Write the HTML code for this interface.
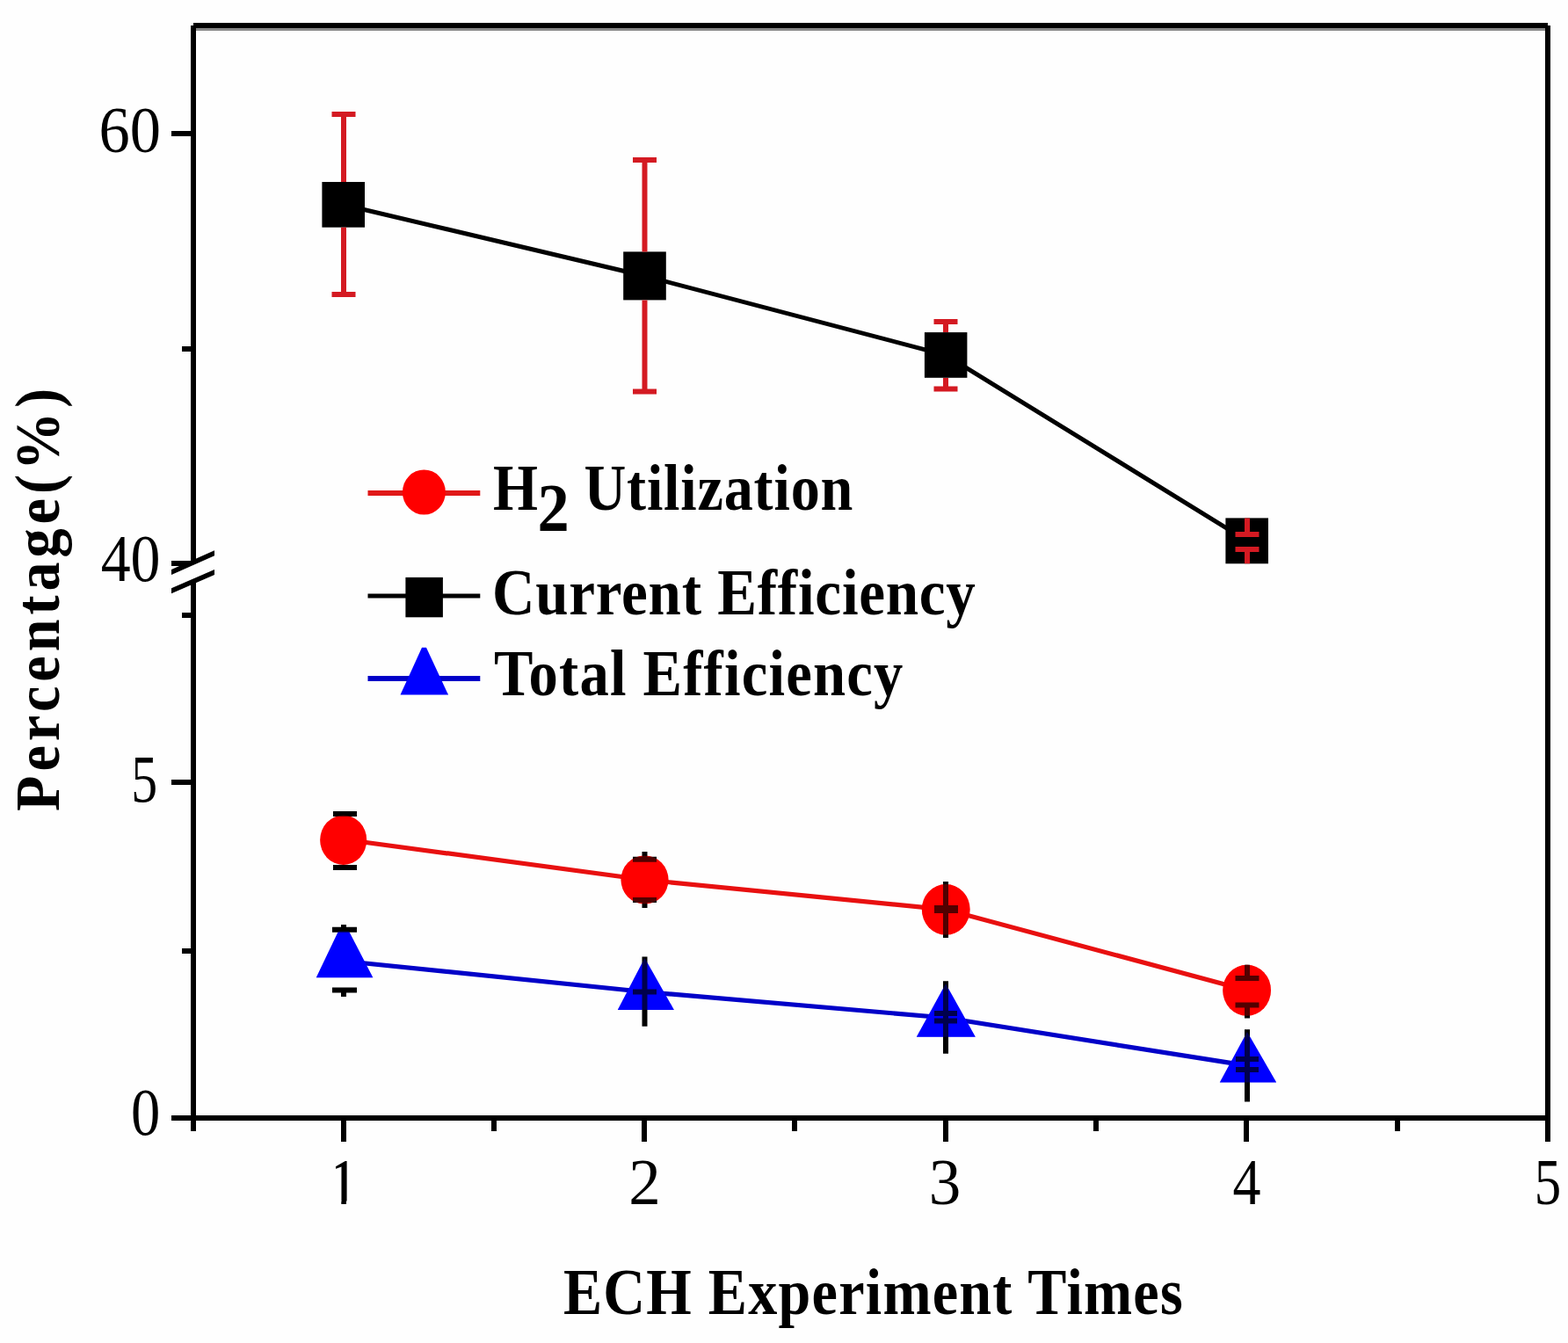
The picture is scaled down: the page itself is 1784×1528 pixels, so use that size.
<!DOCTYPE html>
<html>
<head>
<meta charset="utf-8">
<style>
html,body{margin:0;padding:0;background:#fefefe;}
body{width:1784px;height:1528px;overflow:hidden;}
svg{display:block;}
.num{font-family:"Liberation Serif",serif;font-size:73px;fill:#000;}
.bt{font-family:"Liberation Serif",serif;font-weight:bold;font-size:72px;fill:#000;}
</style>
</head>
<body>
<svg width="1784" height="1528" viewBox="0 0 1784 1528">
<defs>
  <clipPath id="clip1" clipPathUnits="userSpaceOnUse">
    <rect x="382" y="1300" width="30" height="66.5"/>
    <rect x="388.3" y="1366" width="5.7" height="10"/>
  </clipPath>
</defs>
<rect x="0" y="0" width="1784" height="1528" fill="#fefefe"/>

<!-- ===== AXES ===== -->
<g fill="#000" shape-rendering="crispEdges">
  <!-- top axis -->
  <rect x="220" y="26" width="1541" height="6"/>
  <rect x="223" y="32" width="1535" height="3" fill="#888"/>
  <!-- right axis (incl. major tick at 5) -->
  <rect x="1758" y="29" width="6" height="1270"/>
  <!-- bottom axis (incl. y tick at 0) -->
  <rect x="195" y="1269" width="1569" height="6"/>
  <!-- left axis upper segment -->
  <rect x="217" y="29" width="6" height="611"/>
  <!-- left axis lower segment (incl. minor x tick) -->
  <rect x="217" y="661" width="6" height="626"/>
  <!-- y ticks -->
  <rect x="195" y="149" width="22" height="6"/>
  <rect x="207" y="394" width="10" height="6"/>
  <rect x="195" y="638" width="22" height="6"/>
  <rect x="207" y="697" width="10" height="6"/>
  <rect x="195" y="887" width="22" height="6"/>
  <rect x="207" y="1079" width="10" height="6"/>
  <!-- x major ticks -->
  <rect x="388" y="1275" width="6" height="24"/>
  <rect x="730" y="1275" width="6" height="24"/>
  <rect x="1073" y="1275" width="6" height="24"/>
  <rect x="1415" y="1275" width="6" height="24"/>
  <!-- x minor ticks -->
  <rect x="559" y="1275" width="6" height="12"/>
  <rect x="901" y="1275" width="6" height="12"/>
  <rect x="1244" y="1275" width="6" height="12"/>
  <rect x="1587" y="1275" width="6" height="12"/>
</g>
<!-- axis break marks -->
<g fill="#000">
  <polygon points="195,648 244,626.2 244,632.2 195,654"/>
  <polygon points="195,669.2 244,648 244,654 195,675.2"/>
</g>

<!-- ===== TICK LABELS ===== -->
<g class="num">
  <text x="112.4" y="173" textLength="70.5" lengthAdjust="spacingAndGlyphs">60</text>
  <text x="114.7" y="661" style="font-size:76px" textLength="67.8" lengthAdjust="spacingAndGlyphs">40</text>
  <text x="149.2" y="912" style="font-size:76px" textLength="29.9" lengthAdjust="spacingAndGlyphs">5</text>
  <text x="149" y="1291" style="font-size:76px" textLength="33.3" lengthAdjust="spacingAndGlyphs">0</text>
  <text x="390.5" y="1370" text-anchor="middle" clip-path="url(#clip1)">1</text>
  <text x="733.5" y="1370" text-anchor="middle">2</text>
  <text x="1075" y="1370" text-anchor="middle">3</text>
  <text x="1418.5" y="1370" text-anchor="middle" textLength="32" lengthAdjust="spacingAndGlyphs">4</text>
  <text x="1745.7" y="1370" textLength="30.4" lengthAdjust="spacingAndGlyphs">5</text>
</g>

<!-- ===== AXIS TITLES ===== -->
<g transform="translate(641,1495) scale(0.9,1)"><text class="bt" x="0" y="0" style="font-size:73.5px" textLength="783" lengthAdjust="spacing">ECH Experiment Times</text></g>
<g transform="translate(66.7,923) rotate(-90) scale(0.92,1)"><text class="bt" x="0" y="0" textLength="523" lengthAdjust="spacing">Percentage(%)</text></g>

<!-- ===== SERIES - Current Efficiency (black squares, red error bars) ===== -->
<polyline points="391,233 733.5,314 1076,404 1419,615.3" fill="none" stroke="#000" stroke-width="5"/>
<g fill="#000">
  <rect x="366.4" y="207" width="48.6" height="51.7"/>
  <rect x="709.2" y="286.4" width="48.6" height="55"/>
  <rect x="1051.9" y="378.1" width="48.5" height="51.7"/>
  <rect x="1394.4" y="589.4" width="48.6" height="51.9"/>
</g>
<g stroke="#d41a22" stroke-width="6" fill="none">
  <path d="M391 207V130 M377.5 130H404.5 M391 258.7V335 M377.5 335H404.5"/>
  <path d="M733.5 286.4V182 M720 182H747 M733.5 341.4V445.6 M720 445.6H747"/>
  <path d="M1076 378V366 M1062.5 366H1089.5 M1076 430V442.6 M1062.5 442.6H1089.5"/>
  <path d="M1419 589.4V608 M1405.5 608H1432.5 M1419 641.3V625 M1405.5 625H1432.5"/>
</g>

<!-- ===== SERIES - H2 Utilization (red circles, black error bars) ===== -->
<polyline points="390.7,955 733.5,1001 1076.2,1034.8 1418.6,1126.7" fill="none" stroke="#e81010" stroke-width="5.2"/>
<g id="circ" fill="#ff0000">
  <ellipse cx="390.7" cy="955.7" rx="26.5" ry="28.2"/>
  <ellipse cx="733.5" cy="1001" rx="27" ry="27.5"/>
  <ellipse cx="1076.2" cy="1034.8" rx="27.4" ry="28.8"/>
  <ellipse cx="1418.6" cy="1126.7" rx="27.4" ry="29"/>
</g>
<g stroke="#000" stroke-width="6" fill="none">
  <path d="M392.4 923V926 M379 926H406 M392.4 987V987 M379 987H406"/>
  <path d="M733.5 969V977.8 M720 977.8H747 M733.5 1033V1024 M720 1024H747"/>
  <path d="M1076 1003V1067 M1063 1033H1090 M1063 1036H1090"/>
  <path d="M1419 1097.7V1113 M1405.5 1113H1432.5 M1419 1158.6V1143.4 M1405.5 1143.4H1432.5"/>
</g>

<use href="#circ" opacity="0.32"/>

<!-- ===== SERIES - Total Efficiency (blue triangles, black error bars) ===== -->
<polyline points="391,1093.5 733.5,1128.5 1076,1158 1419,1212.4" fill="none" stroke="#0000c8" stroke-width="5.2"/>
<g id="tri" fill="#0000ff">
  <polygon points="385,1059.6 397,1059.6 424.3,1112.3 359.8,1112.3"/>
  <polygon points="733.5,1090 766.9,1149 702.8,1149"/>
  <polygon points="1076,1119.2 1109.8,1179.7 1042.8,1179.7"/>
  <polygon points="1419,1174 1452.2,1231.5 1387.8,1231.5"/>
</g>
<g stroke="#000" stroke-width="6" fill="none">
  <path d="M391 1052V1057.8 M378 1057.8H406 M391 1134V1126.4 M378 1126.4H406"/>
  <path d="M733.5 1088.5V1167.7 M720 1128.5H747"/>
  <path d="M1076 1116.2V1198.7 M1063 1153H1089 M1063 1161.6H1089"/>
  <path d="M1419 1171.3V1253.4 M1406 1205H1432 M1406 1217H1432"/>
</g>

<use href="#tri" opacity="0.3"/>

<!-- ===== LEGEND ===== -->
<line x1="418.5" y1="561" x2="546.3" y2="561" stroke="#e01818" stroke-width="6"/>
<ellipse cx="482.4" cy="560" rx="24.5" ry="25.6" fill="#ff0000"/>
<text class="bt" x="561" y="580" style="font-size:74px" textLength="51" lengthAdjust="spacingAndGlyphs">H</text>
<text class="bt" x="611.5" y="604.4" style="font-size:78px" textLength="36.2" lengthAdjust="spacingAndGlyphs">2</text>
<g transform="translate(664.5,580) scale(0.9,1)"><text class="bt" x="0" y="0" style="font-size:73.5px" textLength="339.8" lengthAdjust="spacing">Utilization</text></g>

<line x1="418.5" y1="678" x2="546.3" y2="678" stroke="#000" stroke-width="5"/>
<rect x="461.4" y="656.9" width="42.5" height="45.4" fill="#000"/>
<g transform="translate(560,698.7) scale(0.9,1)"><text class="bt" x="0" y="0" style="font-size:74.5px" textLength="611" lengthAdjust="spacing">Current Efficiency</text></g>

<line x1="418.5" y1="772" x2="546.3" y2="772" stroke="#0000c8" stroke-width="6"/>
<polygon points="480,736.8 485,736.8 510.1,790.6 455.5,790.6" fill="#0000ff"/>
<g transform="translate(562,791.3) scale(0.9,1)"><text class="bt" x="0" y="0" style="font-size:74px" textLength="517" lengthAdjust="spacing">Total Efficiency</text></g>

</svg>
</body>
</html>
